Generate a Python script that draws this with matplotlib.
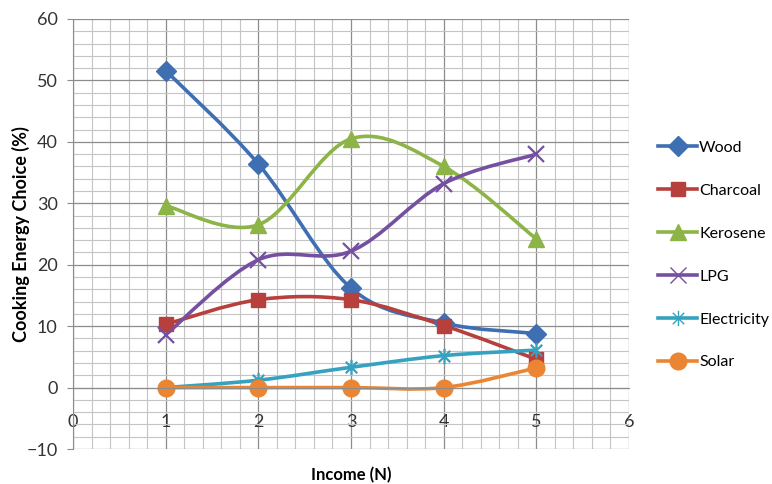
import numpy as np
import matplotlib.pyplot as plt
from matplotlib.path import Path
from matplotlib.patches import PathPatch
from matplotlib.lines import Line2D
from matplotlib.ticker import MultipleLocator

plt.rcParams['font.family'] = ['Lato', 'DejaVu Sans']

# income group and share of households choosing each cooking fuel (%)
income = [1, 2, 3, 4, 5]
wood = [51.6, 36.4, 16.2, 10.5, 8.8]
charcoal = [10.3, 14.3, 14.3, 10.1, 4.6]
kerosene = [29.6, 26.5, 40.5, 36.0, 24.2]
lpg = [8.6, 20.8, 22.2, 33.2, 38.0]
electricity = [0.0, 1.2, 3.3, 5.2, 6.1]
solar = [0.0, 0.0, 0.0, 0.0, 3.2]

# asterisk marker: vertical bar plus a cross
star = Path([(0, -1), (0, 1), (-0.75, -0.75), (0.75, 0.75), (-0.75, 0.75), (0.75, -0.75)],
            [Path.MOVETO, Path.LINETO, Path.MOVETO, Path.LINETO, Path.MOVETO, Path.LINETO])

series = [
    ('Wood', wood, '#3f6fb3', 'D', 10.5),
    ('Charcoal', charcoal, '#b73f3c', 's', 10.5),
    ('Kerosene', kerosene, '#8db446', '^', 12),
    ('LPG', lpg, '#7550a0', 'x', 11),
    ('Electricity', electricity, '#35a2c0', star, 11),
    ('Solar', solar, '#eb8532', 'o', 12),
]


def smooth_path(xs, ys):
    # piecewise bezier through the points (catmull-rom style control points)
    p = np.column_stack([xs, ys]).astype(float)
    n = len(p)
    verts = [p[0]]
    codes = [Path.MOVETO]
    for i in range(n - 1):
        p0 = p[max(i - 1, 0)]
        p1 = p[i]
        p2 = p[i + 1]
        p3 = p[min(i + 2, n - 1)]
        c1 = p1 + (p2 - p0) / 6
        c2 = p2 - (p3 - p1) / 6
        verts += [c1, c2, p2]
        codes += [Path.CURVE4] * 3
    return Path(verts, codes)


fig = plt.figure(figsize=(7.72, 4.84), dpi=100)
ax = fig.add_axes([73 / 772, 1 - 449 / 484, 556 / 772, 430 / 484])

ax.set_xlim(0, 6)
ax.set_ylim(-10, 60)
ax.xaxis.set_major_locator(MultipleLocator(1))
ax.xaxis.set_minor_locator(MultipleLocator(0.2))
ax.yaxis.set_major_locator(MultipleLocator(10))
ax.yaxis.set_minor_locator(MultipleLocator(2))
ax.grid(which='major', color='#8c8c8c', linewidth=0.9)
ax.grid(which='minor', color='#c4c4c4', linewidth=0.8)
ax.set_axisbelow(True)

for s in ['top', 'right']:
    ax.spines[s].set_visible(False)
ax.spines['bottom'].set_position(('data', 0))
ax.spines['bottom'].set_color('#8c8c8c')
ax.spines['left'].set_color('#8c8c8c')

ax.tick_params(axis='y', which='major', length=4, color='#8c8c8c', pad=7,
               labelsize=13, labelcolor='#333333')
ax.tick_params(axis='x', which='major', length=0, pad=19, labelsize=13,
               labelcolor='#333333')
ax.tick_params(which='minor', length=0)

handles = []
for name, vals, col, mk, ms in series:
    ax.add_patch(PathPatch(smooth_path(income, vals), fill=False, edgecolor=col,
                           linewidth=2.6, capstyle='round', joinstyle='round'))
    thin = not (mk == 'x' or mk is star)
    ax.plot(income, vals, linestyle='none', marker=mk, markersize=ms, color=col,
            markeredgewidth=1.0 if thin else 1.6)
    handles.append(Line2D([], [], color=col, linewidth=2.6, marker=mk, markersize=ms,
                          markeredgewidth=1.0))

ax.set_ylabel('Cooking Energy Choice (%)', fontsize=13, fontweight='bold')
ax.yaxis.set_label_coords(-0.077, 0.5)
ax.set_xlabel('Income (N)', fontsize=12, fontweight='bold')
ax.xaxis.set_label_coords(0.5, -0.042)

fig.legend(handles, [s[0] for s in series], loc='center left',
           bbox_to_anchor=(658 / 772, 0.473), frameon=False, fontsize=11.5,
           handlelength=2.45, handletextpad=0.12, labelspacing=1.8,
           borderpad=0, borderaxespad=0)

fig.savefig('out.png', dpi=100)
